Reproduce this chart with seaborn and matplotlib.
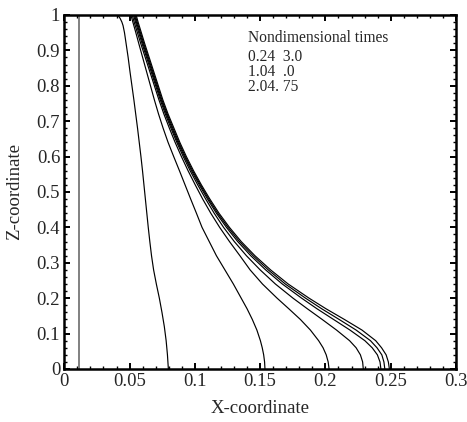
import numpy as np
import pandas as pd
import matplotlib
matplotlib.use("Agg")
import matplotlib.pyplot as plt
import seaborn as sns
from matplotlib.ticker import MultipleLocator, FixedLocator

# ---- data ----
z_initial = [0.0, 1.0]
x_initial = [0.0115, 0.0115]

z_c1 = [1.0, 0.99, 0.98, 0.97, 0.95, 0.92, 0.88, 0.84, 0.80, 0.76, 0.72, 0.68, 0.64, 0.60,
        0.56, 0.52, 0.48, 0.44, 0.40, 0.36, 0.32, 0.28, 0.24, 0.20, 0.16, 0.12, 0.08, 0.04, 0.0]
x_c1 = [0.0410, 0.0428, 0.0441, 0.0450, 0.0461, 0.0473, 0.0489, 0.0503, 0.0518, 0.0533,
        0.0547, 0.0561, 0.0574, 0.0587, 0.0599, 0.0610, 0.0621, 0.0632, 0.0643, 0.0655,
        0.0668, 0.0684, 0.0705, 0.0728, 0.0748, 0.0766, 0.0780, 0.0790, 0.0797]

z_grid = [1.0, 0.98, 0.95, 0.92, 0.88, 0.84, 0.80, 0.76, 0.72, 0.68, 0.64, 0.60, 0.56, 0.52,
          0.48, 0.44, 0.40, 0.36, 0.32, 0.28, 0.24, 0.20, 0.17, 0.14, 0.11, 0.08, 0.06, 0.04,
          0.02, 0.0]
x_c2 = [0.051, 0.0525, 0.0548, 0.057, 0.060, 0.063, 0.066, 0.069, 0.0722, 0.0757, 0.0795,
        0.0838, 0.0882, 0.0925, 0.0968, 0.1012, 0.1055, 0.111, 0.1165, 0.123, 0.1295,
        0.1355, 0.1400, 0.1440, 0.1475, 0.1502, 0.1516, 0.1527, 0.1534, 0.1537]
x_c3 = [0.052, 0.0535, 0.056, 0.0585, 0.062, 0.0655, 0.069, 0.0725, 0.0763, 0.0805, 0.0849,
        0.0897, 0.0948, 0.1003, 0.106, 0.1122, 0.119, 0.1265, 0.1345, 0.1423, 0.1518,
        0.163, 0.172, 0.1808, 0.1885, 0.1948, 0.1982, 0.2006, 0.2021, 0.2028]
x_c4 = [0.053, 0.0545, 0.057, 0.0595, 0.063, 0.0665, 0.070, 0.0735, 0.0774, 0.0817, 0.0862,
        0.0911, 0.0964, 0.1022, 0.1083, 0.1148, 0.122, 0.1302, 0.1395, 0.150, 0.1617,
        0.1752, 0.1862, 0.1975, 0.2085, 0.2185, 0.2235, 0.2268, 0.2285, 0.229]
x_c5 = [0.0537, 0.0552, 0.0577, 0.0602, 0.0637, 0.0672, 0.0707, 0.0742, 0.0782, 0.0825,
        0.087, 0.092, 0.0974, 0.1034, 0.1097, 0.1165, 0.1242, 0.1328, 0.1428, 0.1542,
        0.167, 0.1818, 0.1936, 0.2062, 0.2188, 0.2302, 0.2358, 0.2398, 0.2418, 0.2425]
x_c6 = [0.0543, 0.0558, 0.0583, 0.0608, 0.0643, 0.0678, 0.0713, 0.0748, 0.0788, 0.0832,
        0.0877, 0.0927, 0.0982, 0.1042, 0.1106, 0.1175, 0.1254, 0.1342, 0.1445, 0.1562,
        0.1693, 0.1848, 0.1972, 0.2105, 0.2235, 0.2345, 0.2395, 0.2432, 0.2448, 0.2455]
x_c7 = [0.055, 0.0565, 0.059, 0.0615, 0.065, 0.0685, 0.072, 0.0755, 0.0795, 0.084, 0.0885,
        0.0935, 0.099, 0.105, 0.1115, 0.1185, 0.1265, 0.1355, 0.146, 0.158, 0.1715,
        0.1875, 0.2005, 0.2145, 0.228, 0.2385, 0.243, 0.2465, 0.2482, 0.249]

x_ticks = [0, 0.05, 0.1, 0.15, 0.2, 0.25, 0.3]
x_tick_labels = ["0", "0.05", "0.1", "0.15", "0.2", "0.25", "0.3"]
y_ticks = [0, 0.1, 0.2, 0.3, 0.4, 0.5, 0.6, 0.7, 0.8, 0.9, 1.0]
y_tick_labels = ["0", "0.1", "0.2", "0.3", "0.4", "0.5", "0.6", "0.7", "0.8", "0.9", "1"]

legend_title = "Nondimensional times"
legend_lines = ["0.24  3.0", "1.04  .0", "2.04. 75"]

# ---- build long table ----
frames = []
for name, xs, zs in [("c1", x_c1, z_c1), ("c2", x_c2, z_grid), ("c3", x_c3, z_grid),
                     ("c4", x_c4, z_grid), ("c5", x_c5, z_grid), ("c6", x_c6, z_grid),
                     ("c7", x_c7, z_grid)]:
    frames.append(pd.DataFrame({"x": xs, "z": zs, "curve": name}))
df = pd.concat(frames, ignore_index=True)
df0 = pd.DataFrame({"x": x_initial, "z": z_initial})

sns.set_style("ticks")
plt.rcParams["font.family"] = ["Liberation Serif", "DejaVu Serif"]

fig = plt.figure(figsize=(4.67, 4.22), dpi=100)
ax = fig.add_axes([0.1377, 0.1256, 0.9764 - 0.1377, 0.9645 - 0.1256])

sns.lineplot(data=df0, x="x", y="z", sort=False, estimator=None, color="#808080",
             linewidth=1.4, ax=ax, legend=False)
sns.lineplot(data=df, x="x", y="z", units="curve", estimator=None, sort=False,
             color="black", linewidth=0.85, ax=ax, legend=False)

ax.set_xlim(0, 0.3)
ax.set_ylim(0, 1)
ax.xaxis.set_major_locator(FixedLocator(x_ticks))
ax.set_xticklabels(x_tick_labels)
ax.yaxis.set_major_locator(FixedLocator(y_ticks))
ax.set_yticklabels(y_tick_labels)
ax.xaxis.set_minor_locator(MultipleLocator(0.01))
ax.yaxis.set_minor_locator(MultipleLocator(0.02))
ax.tick_params(which="both", direction="in", top=True, right=True, color="black",
               labelsize=13.5, pad=3)
ax.tick_params(which="major", length=4.5, width=1.4)
ax.tick_params(which="minor", length=2.5, width=1.0)
for s in ax.spines.values():
    s.set_linewidth(1.8)
    s.set_color("black")

ax.set_xlabel("X-coordinate", fontsize=13.5, labelpad=7)
ax.set_ylabel("Z-coordinate", fontsize=13.5, labelpad=10)

ax.text(0.1407, 0.935, legend_title, fontsize=11.2, va="center", ha="left")
ax.text(0.1407, 0.904, "\n".join(legend_lines), fontsize=11.2, va="top", ha="left",
        linespacing=0.92)

fig.savefig("out.png", dpi=100)
